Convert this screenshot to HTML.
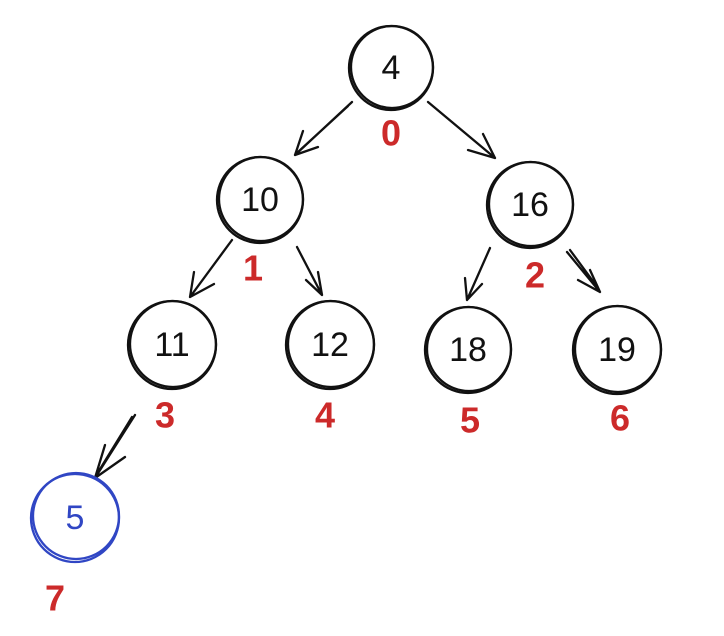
<!DOCTYPE html>
<html><head><meta charset="utf-8"><style>
html,body{margin:0;padding:0;background:#fff;}
svg{display:block}
text{font-family:"Liberation Sans",sans-serif;text-anchor:middle;dominant-baseline:central;}
</style></head><body>
<svg width="724" height="636" viewBox="0 0 724 636" xmlns="http://www.w3.org/2000/svg">
<g fill="none" stroke="#111" stroke-width="2.3" stroke-linecap="round">
<circle cx="391" cy="68" r="42"/><circle cx="392" cy="67" r="41"/>
<circle cx="260" cy="200" r="43"/><circle cx="261" cy="199" r="42"/>
<circle cx="530" cy="205" r="43"/><circle cx="531" cy="204" r="42"/>
<circle cx="172" cy="345" r="44"/><circle cx="173" cy="344" r="43"/>
<circle cx="330" cy="345" r="44"/><circle cx="331" cy="344" r="43"/>
<circle cx="468" cy="350" r="43"/><circle cx="469" cy="349" r="42"/>
<circle cx="617" cy="350" r="44"/><circle cx="618" cy="349" r="43"/>
<!-- arrows -->
<path d="M352 102 L295 155 M295 155 L303 131 M295 155 L318 147 M348 106 L298 152"/>
<path d="M428 102 L495 158 M495 158 L483 134 M495 158 L468 150"/>
<path d="M232 240 L190 297 M190 297 L194 272 M190 297 L214 284 M229 244 L193 293"/>
<path d="M297 247 L322 295 M322 295 L318 272 M322 295 L306 280"/>
<path d="M490 248 L467 300 M467 300 L465 278 M467 300 L482 284"/>
<path d="M567 252 L600 292 M600 292 L590 270 M600 292 L578 280 M570 250 L598 288"/>
<path d="M135 415 L95 478 M95 478 L105 445 M95 478 L125 457 M132 417 L97 474"/>
</g>
<g fill="none" stroke="#3046c4" stroke-width="2.3">
<circle cx="75" cy="518" r="44"/><circle cx="76" cy="516" r="43"/>
</g>
<g font-size="34" fill="#111">
<text x="391" y="68">4</text>
<text x="260" y="200">10</text>
<text x="530" y="205">16</text>
<text x="172" y="345">11</text>
<text x="330" y="345">12</text>
<text x="468" y="350">18</text>
<text x="617" y="350">19</text>
</g>
<text x="75" y="518" font-size="34" fill="#3046c4">5</text>
<g font-size="36" fill="#cc2a2a" font-weight="bold">
<text x="391" y="133">0</text>
<text x="253" y="268">1</text>
<text x="535" y="275">2</text>
<text x="165" y="415">3</text>
<text x="325" y="415">4</text>
<text x="470" y="420">5</text>
<text x="620" y="418">6</text>
<text x="55" y="598">7</text>
</g>
</svg>
</body></html>
